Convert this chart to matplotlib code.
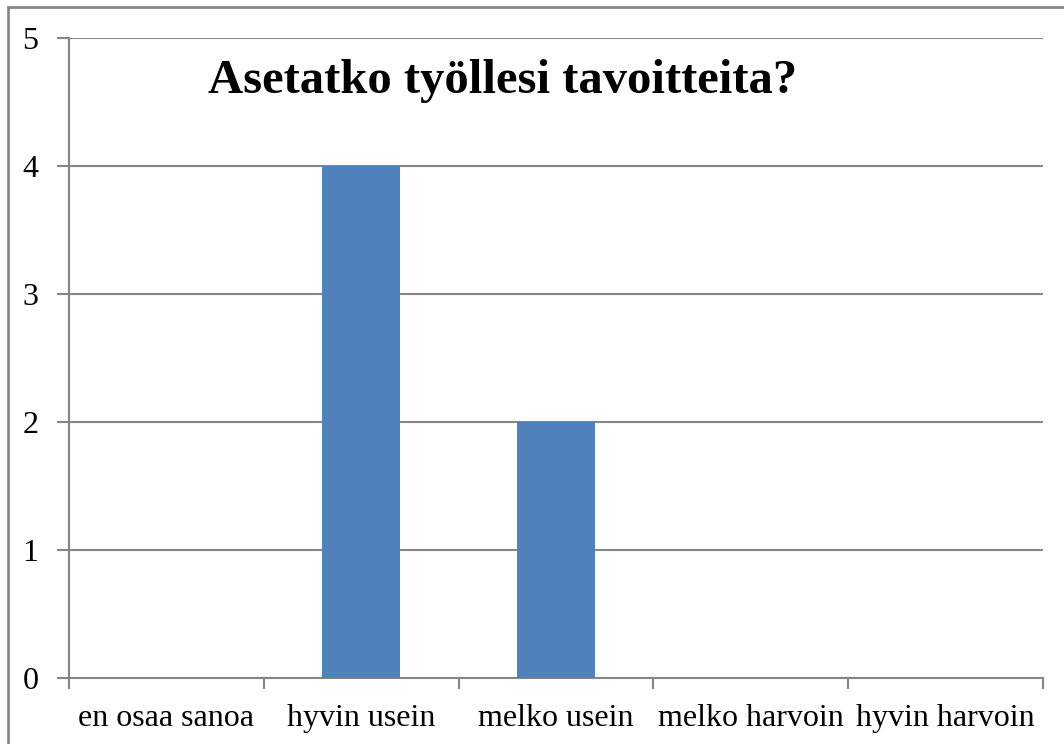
import matplotlib
matplotlib.use("Agg")
import matplotlib.pyplot as plt
from matplotlib.patches import Rectangle
import numpy as np

categories = ["en osaa sanoa", "hyvin usein", "melko usein", "melko harvoin", "hyvin harvoin"]
values = [0, 4, 2, 0, 0]
yticks = [0, 1, 2, 3, 4, 5]
title = "Asetatko työllesi tavoitteita?"

plt.rcParams['font.family'] = ['Liberation Serif', 'DejaVu Serif']

W, H = 1064, 744
fig = plt.figure(figsize=(W / 100, H / 100), dpi=100)
fig.patch.set_facecolor("white")

gray = "#868686"
ax = fig.add_axes([69 / W, 1 - 678 / H, (1043 - 69) / W, (678 - 38) / H])

x = np.arange(len(categories))
ax.bar(x, values, width=0.4, color="#4F81BD", zorder=3)

ax.set_xlim(-0.5, len(categories) - 0.5)
ax.set_ylim(0, 5)
ax.set_yticks(yticks)
ax.set_yticklabels([str(v) for v in yticks])
ax.yaxis.grid(True, color=gray, linewidth=1.5, zorder=0)
ax.set_axisbelow(True)

# major ticks at category boundaries, labels at centers (minor)
ax.set_xticks(np.arange(len(categories) + 1) - 0.5)
ax.set_xticklabels([])
ax.set_xticks(x, minor=True)
ax.set_xticklabels(categories, minor=True)
ax.tick_params(axis='x', which='major', length=8, width=1.5, color=gray, direction='out')
ax.tick_params(axis='x', which='minor', length=0, pad=19, labelsize=23)
ax.tick_params(axis='y', which='major', length=9, width=1.5, color=gray, direction='out',
               pad=13, labelsize=23)

for s in ['top', 'right']:
    ax.spines[s].set_visible(False)
for s in ['left', 'bottom']:
    ax.spines[s].set_color(gray)
    ax.spines[s].set_linewidth(1.5)

fig.text(503 / W, 1 - 93 / H, title, ha='center', va='baseline', fontsize=35, fontweight='bold')

# outer chart border
fig.patches.append(Rectangle((8 / W, -0.1), 1.2, 1.1 - 6.5 / H, transform=fig.transFigure,
                             fill=False, edgecolor=gray, linewidth=2))

fig.savefig("out.png", dpi=100, facecolor="white")
